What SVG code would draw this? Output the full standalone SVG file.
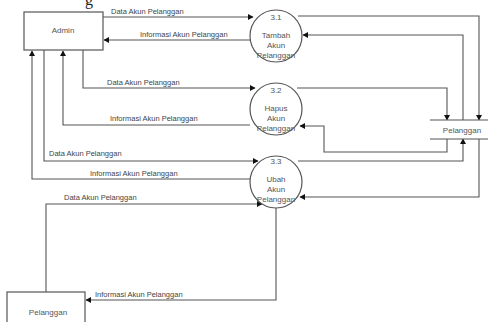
<svg xmlns="http://www.w3.org/2000/svg" width="488" height="322" viewBox="0 0 488 322">
<defs>
<marker id="ah" markerWidth="6" markerHeight="6" refX="5" refY="3" orient="auto" markerUnits="userSpaceOnUse">
<path d="M0,0 L5.5,3 L0,6 Z" fill="#111"/>
</marker>
<style>
.box{fill:#fff;stroke:#555;stroke-width:1.2}
.proc{fill:#fff;stroke:#555;stroke-width:1.2}
.store{stroke:#555;stroke-width:1.2;fill:none}
.nt{font-family:"Liberation Sans",Arial,sans-serif;font-size:8px;fill:#555;text-anchor:middle}
.lbl{font-family:"Liberation Sans",Arial,sans-serif;font-size:7.5px;fill:#444}
.c{fill:none;stroke:#555;stroke-width:1.1}
.ca{fill:none;stroke:#555;stroke-width:1.1;marker-end:url(#ah)}
</style>
</defs>
<rect width="488" height="322" fill="#fff"/>
<text x="85" y="5" font-family="Liberation Serif,serif" font-size="16" fill="#222">g</text>

<g id="connectors">
<path class="ca" d="M103,17 H253"/>
<path class="ca" d="M250,40 H104"/>
<path class="ca" d="M83,50 V88 H255"/>
<path class="ca" d="M250,125 H63 V51"/>
<path class="ca" d="M44,50 V161 H258"/>
<path class="ca" d="M250,179 H32 V51"/>
<path class="ca" d="M46,292 V204 H262"/>
<path class="ca" d="M276,207 V300 H86"/>
<path class="ca" d="M298,16 H479 V120"/>
<path class="ca" d="M463,120 V35 H303"/>
<path class="ca" d="M297,88 H447 V120"/>
<path class="ca" d="M447,139 V152 H324 V126 H300"/>
<path class="ca" d="M298,161 H463 V139"/>
<path class="ca" d="M479,139 V197 H300"/>
<text class="lbl" x="111" y="14">Data Akun Pelanggan</text>
<text class="lbl" x="140" y="37">Informasi Akun Pelanggan</text>
<text class="lbl" x="107" y="85">Data Akun Pelanggan</text>
<text class="lbl" x="110" y="121">Informasi Akun Pelanggan</text>
<text class="lbl" x="49" y="156">Data Akun Pelanggan</text>
<text class="lbl" x="90" y="176">Informasi Akun Pelanggan</text>
<text class="lbl" x="64" y="200">Data Akun Pelanggan</text>
<text class="lbl" x="95" y="297">Informasi Akun Pelanggan</text>
</g>

<g id="admin">
<rect class="box" x="24" y="12" width="79" height="38"/>
<text class="nt" x="63" y="33">Admin</text>
</g>

<g id="pelanggan">
<rect class="box" x="7" y="292" width="78" height="40"/>
<text class="nt" x="48" y="315">Pelanggan</text>
</g>

<g id="p31">
<circle class="proc" cx="276" cy="36" r="26"/>
<text class="nt" x="276" y="20">3.1</text>
<text class="nt" x="276" y="38">Tambah</text>
<text class="nt" x="276" y="48">Akun</text>
<text class="nt" x="276" y="58">Pelanggan</text>
</g>

<g id="p32">
<circle class="proc" cx="276" cy="109" r="26"/>
<text class="nt" x="276" y="93">3.2</text>
<text class="nt" x="276" y="111">Hapus</text>
<text class="nt" x="276" y="121">Akun</text>
<text class="nt" x="276" y="131">Pelanggan</text>
</g>

<g id="p33">
<circle class="proc" cx="276" cy="182" r="26"/>
<text class="nt" x="276" y="164">3.3</text>
<text class="nt" x="276" y="182">Ubah</text>
<text class="nt" x="276" y="192">Akun</text>
<text class="nt" x="276" y="202">Pelanggan</text>
</g>

<g id="store">
<rect x="430" y="120" width="58" height="19" fill="#fff"/>
<path class="store" d="M430,120 H488 M430,139 H488"/>
<text class="nt" x="462" y="133">Pelanggan</text>
</g>
</svg>
